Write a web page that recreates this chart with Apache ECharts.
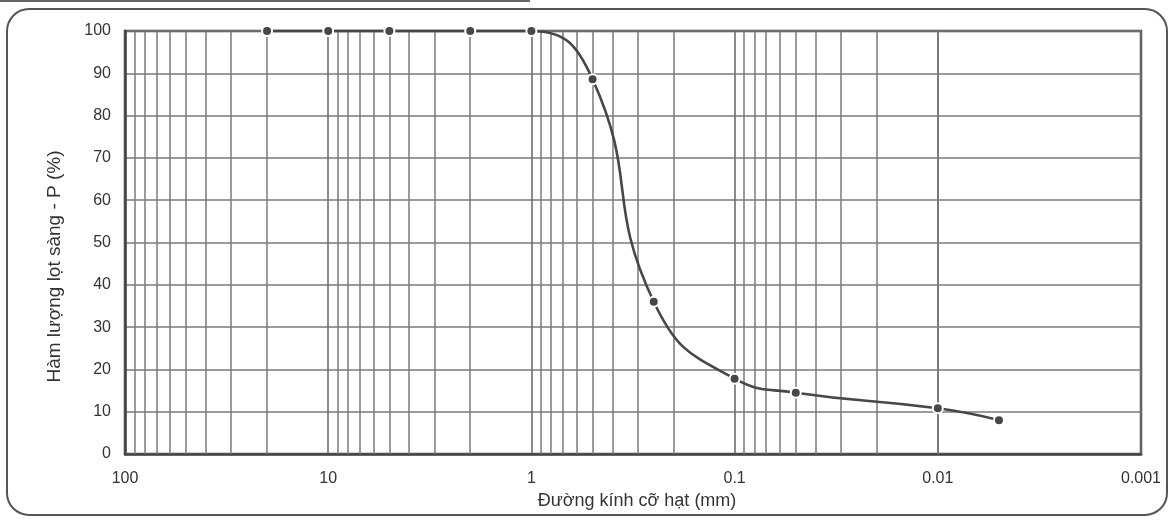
<!DOCTYPE html>
<html>
<head>
<meta charset="utf-8">
<script src="https://cdn.jsdelivr.net/npm/echarts@6/dist/echarts.min.js"></script>
<style>
html,body{margin:0;padding:0;background:#fff;}
#chart{width:1171px;height:522px;}
</style>
</head>
<body>
<div id="chart"></div>
<script>
// Grain size (mm) and percent passing
const sizes = [20, 10, 5, 2, 1, 0.5, 0.25, 0.1, 0.05, 0.01, 0.005];
const passing = [100, 100, 100, 100, 100, 88.6, 36, 17.8, 14.5, 10.8, 8];
// x tick labels, decade by decade from 100 down to 0.001
const xTickLabels = ['100', '10', '1', '0.1', '0.01', '0.001'];
// minor log grid lines: multipliers within each decade
const decades = [0.001, 0.01, 0.1, 1, 10];
const minorMultipliers = [2, 3, 4, 5, 6, 7, 8, 9];

const minorLines = [];
decades.forEach(d => minorMultipliers.forEach(m => minorLines.push({ xAxis: +(d * m).toPrecision(6) })));

const chart = echarts.init(document.getElementById('chart'), null, { renderer: 'canvas' });
const font = 'Liberation Sans, Arial, sans-serif';
chart.setOption({
  backgroundColor: '#fff',
  animation: false,
  grid: { left: 125, right: 30, top: 31, bottom: 68, show: true, borderColor: '#444', borderWidth: 2.5 },
  xAxis: {
    type: 'log',
    logBase: 10,
    inverse: true,
    min: 0.001,
    max: 100,
    name: 'Đường kính cỡ hạt (mm)',
    nameLocation: 'middle',
    nameGap: 25,
    nameTextStyle: { fontFamily: font, fontSize: 18, color: '#333', padding: [0, 0, 0, 8] },
    axisLine: { show: true, lineStyle: { color: '#444', width: 2.5 } },
    axisTick: { show: false },
    axisLabel: {
      fontFamily: font, fontSize: 16, color: '#333', margin: 17,
      showMinLabel: true, showMaxLabel: true,
      formatter: v => xTickLabels[Math.round(2 - Math.log10(v))]
    },
    splitLine: { show: true, lineStyle: { color: '#6e6e6e', width: 1.6 } }
  },
  yAxis: {
    type: 'value',
    min: 0,
    max: 100,
    interval: 10,
    name: 'Hàm lượng lọt sàng - P (%)',
    nameLocation: 'middle',
    nameGap: 61,
    nameTextStyle: { fontFamily: font, fontSize: 19, color: '#333', padding: [0, 48, 0, 0] },
    axisLine: { show: true, lineStyle: { color: '#444', width: 2.5 } },
    axisTick: { show: false },
    axisLabel: { fontFamily: font, fontSize: 16, color: '#333', margin: 14 },
    splitLine: { show: true, lineStyle: { color: '#7a7a7a', width: 1.5 } }
  },
  series: [{
    type: 'line',
    data: sizes.map((s, i) => [s, passing[i]]),
    smooth: 0.5,
    clip: false,
    z: 5,
    symbol: 'circle',
    symbolSize: 10,
    itemStyle: { color: '#474747', borderColor: '#fff', borderWidth: 2 },
    lineStyle: { color: '#474747', width: 2.6 },
    markLine: {
      silent: true,
      z: 1,
      symbol: 'none',
      animation: false,
      label: { show: false },
      lineStyle: { color: '#7a7a7a', width: 1.5, type: 'solid' },
      emphasis: { disabled: true },
      data: minorLines
    }
  }],
  graphic: [
    { type: 'rect', shape: { x: 7, y: 9, width: 1160, height: 506, r: 22 }, style: { fill: 'none', stroke: '#555', lineWidth: 2 }, silent: true },
    { type: 'line', shape: { x1: 0, y1: 1, x2: 530, y2: 1 }, style: { stroke: '#666', lineWidth: 2 }, silent: true }
  ]
});
</script>
</body>
</html>
